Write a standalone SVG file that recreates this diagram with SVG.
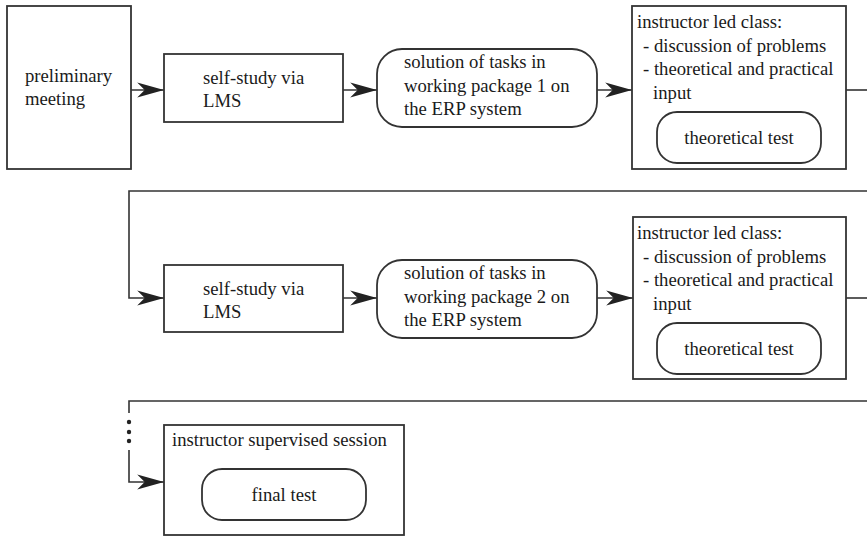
<svg xmlns="http://www.w3.org/2000/svg" width="867" height="538" viewBox="0 0 867 538" font-family="'Liberation Serif', 'DejaVu Serif', serif">
<style>
.box{fill:#fff;stroke:#333;stroke-width:1.8}
.ln{fill:none;stroke:#333;stroke-width:1.6}
text{font-family:"Liberation Serif","DejaVu Serif",serif;font-size:18.7px;fill:#1a1a1a}
.c{text-anchor:middle}
</style>
<defs>
<marker id="arr" markerUnits="userSpaceOnUse" markerWidth="30" markerHeight="20" viewBox="-26 -9 28 18" refX="0" refY="0" orient="auto">
<path d="M0,0 L-25,-7 L-18,0 L-25,7 Z" fill="#222"/>
</marker>
</defs>
<rect width="867" height="538" fill="#fff"/>
<g id="connectors">
<path class="ln" d="M131,90 H164" marker-end="url(#arr)"/>
<path class="ln" d="M343,90 H377" marker-end="url(#arr)"/>
<path class="ln" d="M597,90 H632" marker-end="url(#arr)"/>
<path class="ln" d="M846,90 H867"/>
<path class="ln" d="M867,191 H129 V298 H164" marker-end="url(#arr)"/>
<path class="ln" d="M343,298 H377" marker-end="url(#arr)"/>
<path class="ln" d="M597,298 H633" marker-end="url(#arr)"/>
<path class="ln" d="M846,298 H867"/>
<path class="ln" d="M867,401 H129 V413"/>
<circle cx="129" cy="422" r="2.2" fill="#222"/>
<circle cx="129" cy="432" r="2.2" fill="#222"/>
<circle cx="129" cy="441" r="2.2" fill="#222"/>
<path class="ln" d="M129,450 V482 H164" marker-end="url(#arr)"/>
</g>
<g id="preliminary">
<rect class="box" x="7" y="6" width="124" height="163"/>
<text x="25" y="82">preliminary</text>
<text x="25" y="105">meeting</text>
</g>
<g id="selfstudy1">
<rect class="box" x="164" y="54" width="179" height="68"/>
<text x="203" y="83.5">self-study via</text>
<text x="203" y="107">LMS</text>
</g>
<g id="solution1">
<rect class="box" x="377" y="49" width="220" height="78" rx="25"/>
<text x="404" y="68">solution of tasks in</text>
<text x="404" y="91.5">working package 1 on</text>
<text x="404" y="115">the ERP system</text>
</g>
<g id="instructor1">
<rect class="box" x="632" y="6" width="214" height="163"/>
<text x="637" y="28">instructor led class:</text>
<text x="643" y="51.5">- discussion of problems</text>
<text x="643" y="75">- theoretical and practical</text>
<text x="653" y="98.5">input</text>
</g>
<g id="test1">
<rect class="box" x="657" y="112" width="164" height="51" rx="20"/>
<text class="c" x="739" y="143.5">theoretical test</text>
</g>
<g id="selfstudy2">
<rect class="box" x="164" y="265" width="179" height="67"/>
<text x="203" y="294.5">self-study via</text>
<text x="203" y="318">LMS</text>
</g>
<g id="solution2">
<rect class="box" x="377" y="260" width="220" height="78" rx="25"/>
<text x="404" y="279">solution of tasks in</text>
<text x="404" y="302.5">working package 2 on</text>
<text x="404" y="326">the ERP system</text>
</g>
<g id="instructor2">
<rect class="box" x="633" y="217" width="213" height="162"/>
<text x="637" y="239">instructor led class:</text>
<text x="643" y="262.5">- discussion of problems</text>
<text x="643" y="286">- theoretical and practical</text>
<text x="653" y="309.5">input</text>
</g>
<g id="test2">
<rect class="box" x="657" y="323" width="164" height="51" rx="20"/>
<text class="c" x="739" y="354.5">theoretical test</text>
</g>
<g id="supervised">
<rect class="box" x="164" y="425" width="240" height="110"/>
<text x="172" y="446">instructor supervised session</text>
</g>
<g id="finaltest">
<rect class="box" x="202" y="469" width="164" height="51" rx="20"/>
<text class="c" x="284" y="501">final test</text>
</g>
</svg>
